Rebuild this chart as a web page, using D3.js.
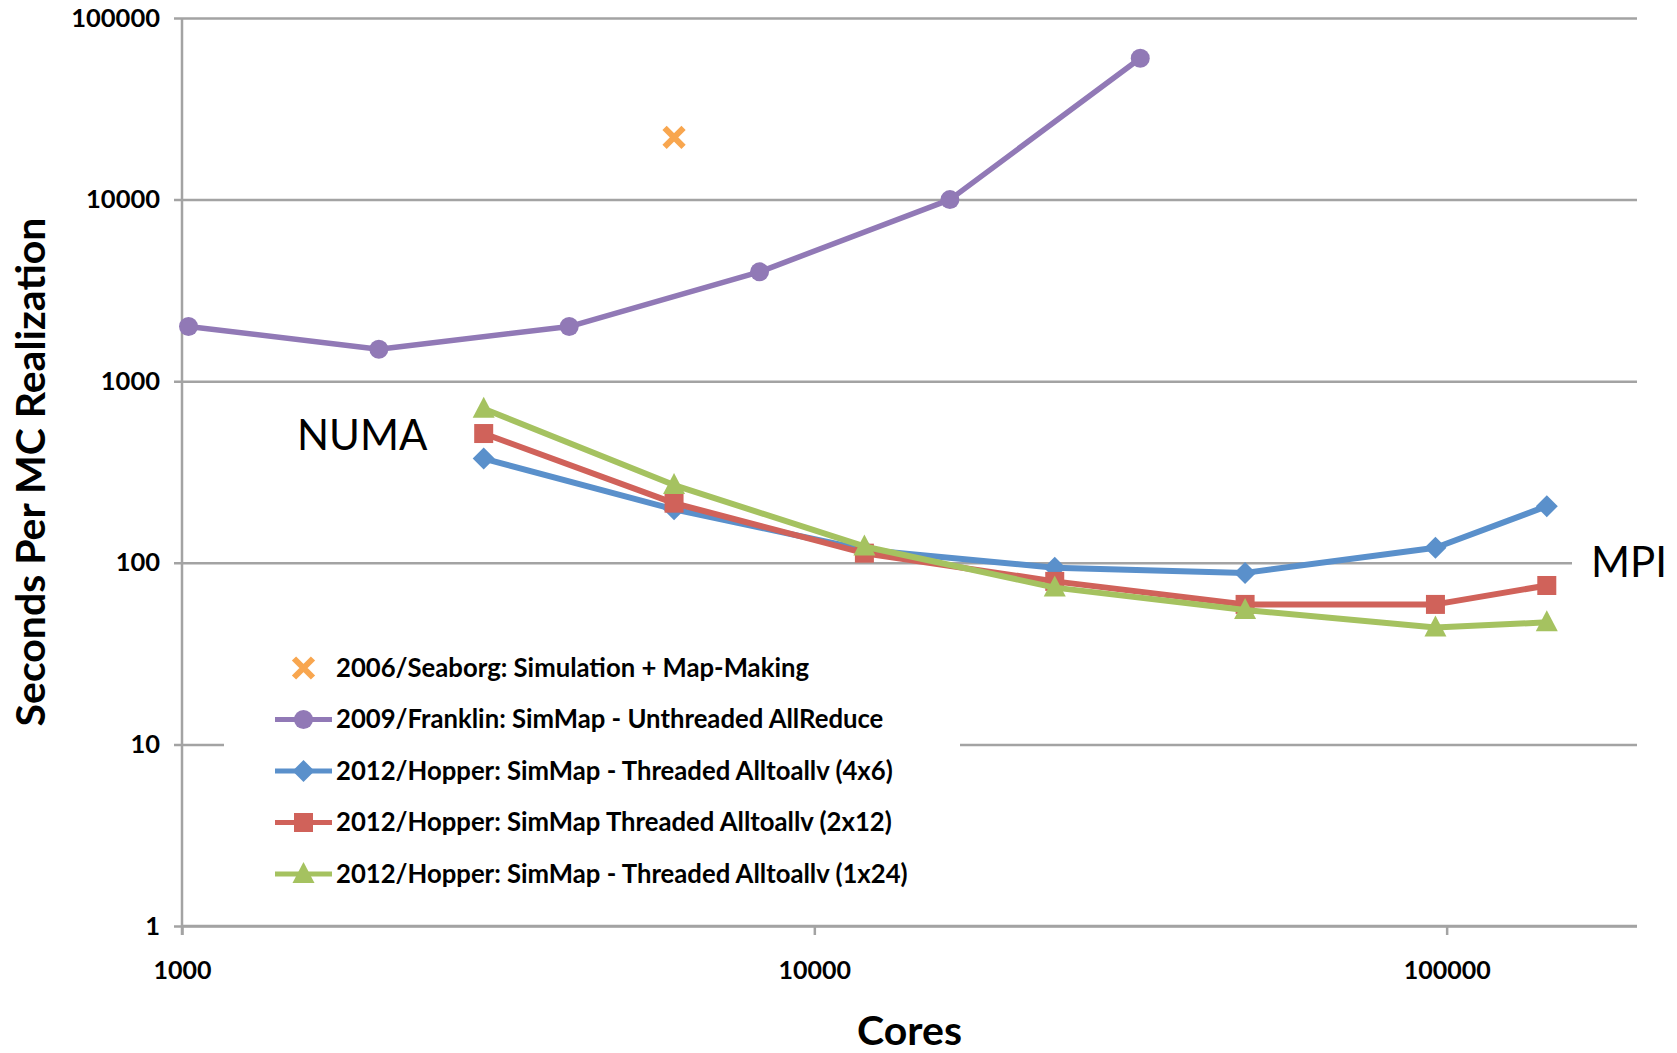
<!DOCTYPE html>
<html>
<head>
<meta charset="utf-8">
<script src="https://cdn.jsdelivr.net/npm/d3@7"></script>
<style>
  html, body { margin: 0; padding: 0; background: #fff; }
  svg { display: block; font-family: Lato, "Open Sans", sans-serif; }
</style>
</head>
<body>
<svg id="chart" width="1677" height="1053"></svg>
<script>
// Time per Monte Carlo realization versus core count, three machine generations
const seaborgCores = [6000];
const seaborgSecs  = [22000];

const franklinCores = [1024, 2048, 4096, 8192, 16384, 32768];
const franklinSecs  = [2000, 1500, 2000, 4000, 10000, 60000];

const hopperCores = [3000, 6000, 12000, 24000, 48000, 96000, 144000];
const hopper4x6   = [375, 197, 118, 94, 88, 121, 205];
const hopper2x12  = [515, 213, 113, 79, 59, 59, 75];
const hopper1x24  = [705, 268, 123, 73, 55, 44, 47];

const xTicks = [1000, 10000, 100000];
const yTicks = [1, 10, 100, 1000, 10000, 100000];

const seriesNames = [
  "2006/Seaborg: Simulation + Map-Making",
  "2009/Franklin: SimMap - Unthreaded AllReduce",
  "2012/Hopper: SimMap - Threaded Alltoallv (4x6)",
  "2012/Hopper: SimMap Threaded Alltoallv (2x12)",
  "2012/Hopper: SimMap - Threaded Alltoallv (1x24)"
];

const colors = {
  seaborg: "#f8a64f",
  franklin: "#9179b6",
  h4x6: "#5a90cb",
  h2x12: "#d0625a",
  h1x24: "#a5c260"
};

const svg = d3.select("#chart");
const plotLeft = 182, plotRight = 1637, plotTop = 18, plotBottom = 926;

const x = d3.scaleLog().domain([1000, 200000]).range([plotLeft, plotRight]);
const y = d3.scaleLog().domain([1, 100000]).range([plotBottom, plotTop]);

const gridColor = "#a3a3a3";

// horizontal gridlines with left tick stubs
const yAxis = d3.axisLeft(y).tickValues(yTicks).tickFormat(d3.format("d"))
  .tickSize(-(plotRight - plotLeft)).tickPadding(22);
const gy = svg.append("g").attr("transform", `translate(${plotLeft},0)`).call(yAxis);
gy.select(".domain").remove();
gy.selectAll(".tick line").attr("stroke", gridColor).attr("stroke-width", 2.5)
  .attr("x1", -8);
gy.selectAll(".tick text").attr("font-size", 25.5).attr("font-weight", 700)
  .attr("fill", "#000").attr("font-family", "Lato, sans-serif");

// x axis with downward ticks at each decade
const xAxis = d3.axisBottom(x).tickValues(xTicks).tickFormat(d3.format("d"))
  .tickSize(9).tickPadding(26);
const gx = svg.append("g").attr("transform", `translate(0,${plotBottom})`).call(xAxis);
gx.select(".domain").attr("stroke", gridColor).attr("stroke-width", 2.5)
  .attr("d", `M${plotLeft},0H${plotRight}`);
gx.selectAll(".tick line").attr("stroke", gridColor).attr("stroke-width", 2.5);
gx.selectAll(".tick text").attr("font-size", 25).attr("font-weight", 700)
  .attr("fill", "#000").attr("font-family", "Lato, sans-serif");

// vertical value axis line
svg.append("line").attr("x1", plotLeft).attr("x2", plotLeft).attr("y1", plotTop).attr("y2", plotBottom + 9)
  .attr("stroke", gridColor).attr("stroke-width", 2.5);

// legend panel sits on top of the gridlines
svg.append("rect").attr("x", 224).attr("y", 640).attr("width", 736).attr("height", 262)
  .attr("fill", "#fff");
// label panel for MPI
svg.append("rect").attr("x", 1572).attr("y", 530).attr("width", 105).attr("height", 64)
  .attr("fill", "#fff");

const line = d3.line().x(d => x(d[0])).y(d => y(d[1]));

function marker(g, shape, cx, cy, color) {
  if (shape === "circle") {
    g.append("circle").attr("cx", cx).attr("cy", cy).attr("r", 9.5).attr("fill", color);
  } else if (shape === "diamond") {
    const s = 11;
    g.append("path").attr("d", `M${cx},${cy - s}L${cx + s},${cy}L${cx},${cy + s}L${cx - s},${cy}Z`)
      .attr("fill", color);
  } else if (shape === "square") {
    const s = 9.5;
    g.append("rect").attr("x", cx - s).attr("y", cy - s).attr("width", 2 * s).attr("height", 2 * s)
      .attr("fill", color);
  } else if (shape === "triangle") {
    g.append("path").attr("d", `M${cx},${cy - 12}L${cx + 11},${cy + 9}L${cx - 11},${cy + 9}Z`)
      .attr("fill", color);
  } else if (shape === "x") {
    const s = 9.5;
    g.append("path").attr("d", `M${cx - s},${cy - s}L${cx + s},${cy + s}M${cx + s},${cy - s}L${cx - s},${cy + s}`)
      .attr("stroke", color).attr("stroke-width", 6);
  }
}

const series = [
  { cores: franklinCores, vals: franklinSecs, color: colors.franklin, shape: "circle", width: 5.5 },
  { cores: hopperCores, vals: hopper4x6, color: colors.h4x6, shape: "diamond", width: 6 },
  { cores: hopperCores, vals: hopper2x12, color: colors.h2x12, shape: "square", width: 6 },
  { cores: hopperCores, vals: hopper1x24, color: colors.h1x24, shape: "triangle", width: 6 }
];

const plot = svg.append("g");
series.forEach(s => {
  const pts = s.cores.map((c, i) => [c, s.vals[i]]);
  const g = plot.append("g");
  g.append("path").datum(pts).attr("d", line).attr("fill", "none")
    .attr("stroke", s.color).attr("stroke-width", s.width).attr("stroke-linejoin", "round");
  pts.forEach(p => marker(g, s.shape, x(p[0]), y(p[1]), s.color));
});

// single Seaborg point
seaborgCores.forEach((c, i) => marker(plot, "x", x(c), y(seaborgSecs[i]), colors.seaborg));

// legend
const legendRows = [
  { shape: "x", color: colors.seaborg, line: false },
  { shape: "circle", color: colors.franklin, line: true },
  { shape: "diamond", color: colors.h4x6, line: true },
  { shape: "square", color: colors.h2x12, line: true },
  { shape: "triangle", color: colors.h1x24, line: true }
];
const lg = svg.append("g");
legendRows.forEach((r, i) => {
  const cy = 668 + i * 51.5;
  if (r.line) {
    lg.append("line").attr("x1", 275).attr("x2", 332).attr("y1", cy).attr("y2", cy)
      .attr("stroke", r.color).attr("stroke-width", 5);
  }
  marker(lg, r.shape, 303.5, cy, r.color);
  lg.append("text").attr("x", 336).attr("y", cy).attr("dy", "0.35em")
    .attr("font-size", 25.7).attr("font-weight", 700).attr("fill", "#000")
    .text(seriesNames[i]);
});

// annotations
svg.append("text").attr("x", 297).attr("y", 450).attr("font-size", 42)
  .attr("fill", "#000").text("NUMA");
svg.append("text").attr("x", 1591).attr("y", 577).attr("font-size", 42)
  .attr("fill", "#000").text("MPI");

// axis titles
svg.append("text").attr("x", (plotLeft + plotRight) / 2).attr("y", 1045).attr("text-anchor", "middle")
  .attr("font-size", 41).attr("font-weight", 700).attr("fill", "#000").text("Cores");
svg.append("text").attr("transform", `translate(45,${(plotTop + plotBottom) / 2}) rotate(-90)`)
  .attr("text-anchor", "middle").attr("font-size", 41).attr("font-weight", 700)
  .attr("fill", "#000").text("Seconds Per MC Realization");
</script>
</body>
</html>
